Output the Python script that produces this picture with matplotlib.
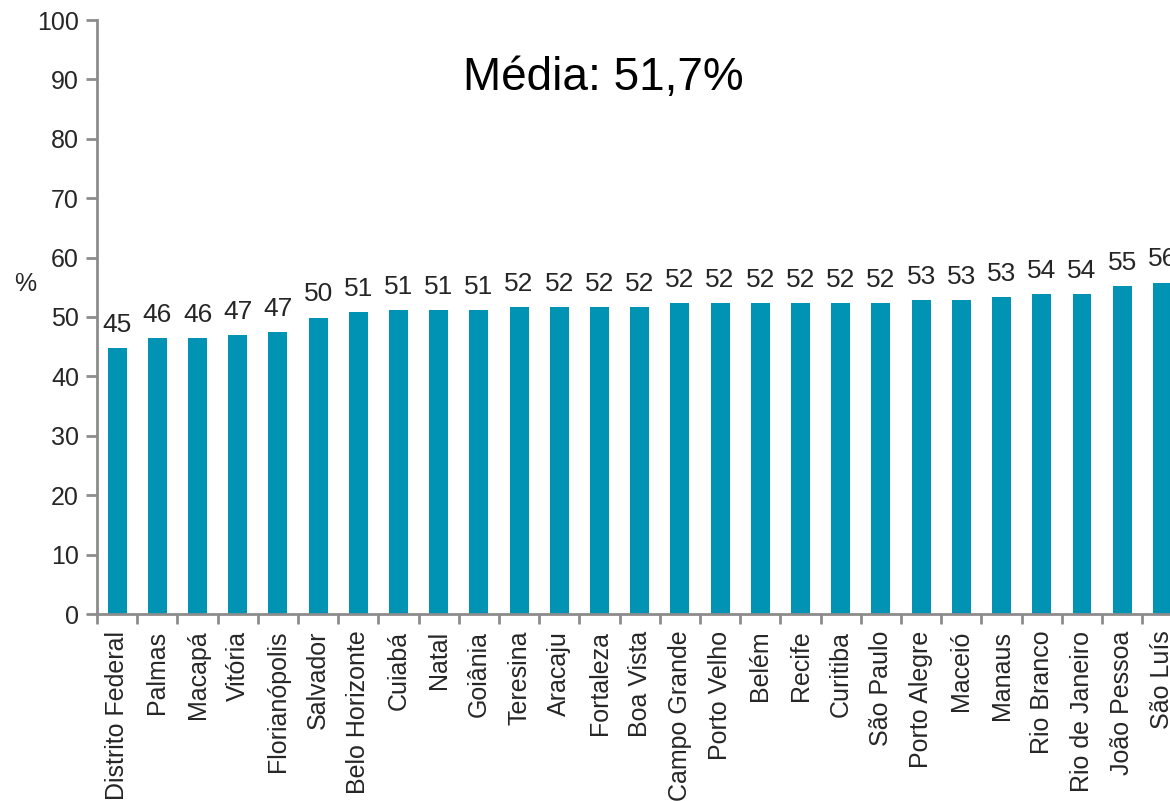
import matplotlib
matplotlib.use("Agg")
import matplotlib.pyplot as plt
import numpy as np

plt.rcParams['font.family'] = ['Liberation Sans', 'DejaVu Sans']

cidades = ["Distrito Federal", "Palmas", "Macapá", "Vitória", "Florianópolis",
           "Salvador", "Belo Horizonte", "Cuiabá", "Natal", "Goiânia",
           "Teresina", "Aracaju", "Fortaleza", "Boa Vista", "Campo Grande",
           "Porto Velho", "Belém", "Recife", "Curitiba", "São Paulo",
           "Porto Alegre", "Maceió", "Manaus", "Rio Branco", "Rio de Janeiro",
           "João Pessoa", "São Luís"]
valores = [44.8, 46.4, 46.4, 47.0, 47.5,
           49.9, 50.9, 51.2, 51.2, 51.2,
           51.7, 51.7, 51.7, 51.7, 52.3,
           52.3, 52.3, 52.3, 52.3, 52.3,
           52.9, 52.9, 53.3, 53.9, 53.9,
           55.2, 55.8]
rotulos = ["45", "46", "46", "47", "47", "50", "51", "51", "51", "51",
           "52", "52", "52", "52", "52", "52", "52", "52", "52", "52",
           "53", "53", "53", "54", "54", "55", "56"]
media = "Média: 51,7%"

cor_barra = "#0093b3"
cor_eixo = "#8c8c8c"
cor_texto = "#262626"

fig = plt.figure(figsize=(11.7, 8.01), dpi=100)
ax = fig.add_axes([97 / 1170, 1 - 614 / 801, 1 - 97 / 1170, 594 / 801])

x = np.arange(len(cidades))
ax.bar(x, valores, width=0.47, color=cor_barra, zorder=2)

for xi, v, r in zip(x, valores, rotulos):
    ax.annotate(r, (xi, v), xytext=(0, 8), textcoords="offset points",
                ha="center", va="bottom", fontsize=19, color=cor_texto)

ax.set_ylim(0, 100)
ax.set_xlim(-0.5, 26.19)
ax.set_yticks(np.arange(0, 101, 10))
ax.tick_params(axis="y", labelsize=18, labelcolor=cor_texto, color=cor_eixo,
               width=2, length=8, pad=5)

# ticks entre as categorias, rotulos no centro
ax.set_xticks(np.arange(-0.5, 26.5, 1.0))
ax.set_xticklabels([])
ax.set_xticks(x, minor=True)
ax.set_xticklabels(cidades, minor=True, rotation=90, fontsize=18, color=cor_texto)
ax.tick_params(axis="x", which="major", color=cor_eixo, width=2, length=7)
ax.tick_params(axis="x", which="minor", length=0, pad=12)

for lado in ["top", "right"]:
    ax.spines[lado].set_visible(False)
for lado in ["left", "bottom"]:
    ax.spines[lado].set_color(cor_eixo)
    ax.spines[lado].set_linewidth(2)

fig.text(25 / 1170, 1 - 284 / 801, "%", fontsize=18, color=cor_texto,
         ha="center", va="center")
fig.text(603 / 1170, 1 - 78 / 801, media, fontsize=33, color="black",
         ha="center", va="center")

fig.savefig("out.png", dpi=100)
